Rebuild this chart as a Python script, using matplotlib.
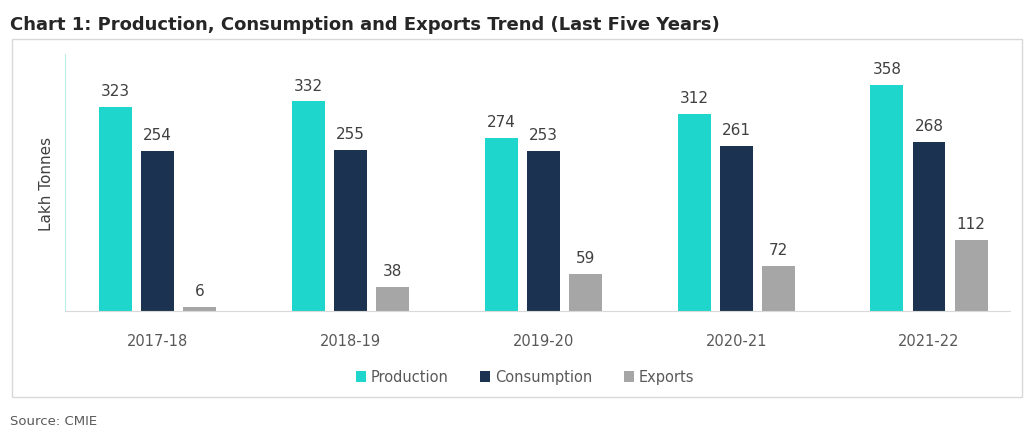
import matplotlib.pyplot as plt
import numpy as np
from matplotlib.patches import Rectangle

years = ["2017-18", "2018-19", "2019-20", "2020-21", "2021-22"]
production = [323, 332, 274, 312, 358]
consumption = [254, 255, 253, 261, 268]
exports = [6, 38, 59, 72, 112]

series = [
    ("Production", production, "#1ED6CB"),
    ("Consumption", consumption, "#1B3350"),
    ("Exports", exports, "#A6A6A6"),
]

plt.rcParams["font.family"] = ["DejaVu Sans"]

fig = plt.figure(figsize=(10.26, 4.31), dpi=100)
W, H = 1026, 431

# chart frame
fig.patches.append(Rectangle((12 / W, 1 - 398 / H), (1022 - 12) / W, (398 - 40) / H,
                             transform=fig.transFigure, fill=False,
                             edgecolor="#D9D9D9", linewidth=1.0))

ax = fig.add_axes([65 / W, 1 - 312 / H, (1010 - 65) / W, (312 - 55) / H])

x = np.arange(len(years))
width = 0.171
step = 0.218
for i, (name, vals, color) in enumerate(series):
    pos = x + (i - 1) * step
    bars = ax.bar(pos, vals, width=width, color=color, label=name)
    for b, v in zip(bars, vals):
        ax.text(b.get_x() + b.get_width() / 2, v + 14, str(v),
                ha="center", va="bottom", fontsize=11, color="#404040")

ax.set_xlim(-0.48, 4.42)
ax.set_ylim(0, 407)
ax.set_yticks([])
ax.set_xticks(x)
ax.set_xticklabels(years, fontsize=10.5, color="#595959")
ax.tick_params(axis="x", length=0, pad=16)
for s in ["top", "right"]:
    ax.spines[s].set_visible(False)
ax.spines["left"].set_color("#B8F0EC")
ax.spines["bottom"].set_color("#D9D9D9")
ax.set_ylabel("Lakh Tonnes", fontsize=11, color="#404040", labelpad=8)

fig.legend(loc="center", bbox_to_anchor=(525 / W, 1 - 378 / H), ncol=3, frameon=False,
           fontsize=10.5, handlelength=0.7, handleheight=0.7, handletextpad=0.3,
           columnspacing=2.2, labelcolor="#595959")

fig.text(10 / W, 1 - 25 / H, "Chart 1: Production, Consumption and Exports Trend (Last Five Years)",
         fontsize=13, fontweight="bold", color="#262626", va="center", ha="left")
fig.text(10 / W, 1 - 422 / H, "Source: CMIE", fontsize=9.5, color="#595959",
         va="center", ha="left")

fig.savefig("out.png", dpi=100)
